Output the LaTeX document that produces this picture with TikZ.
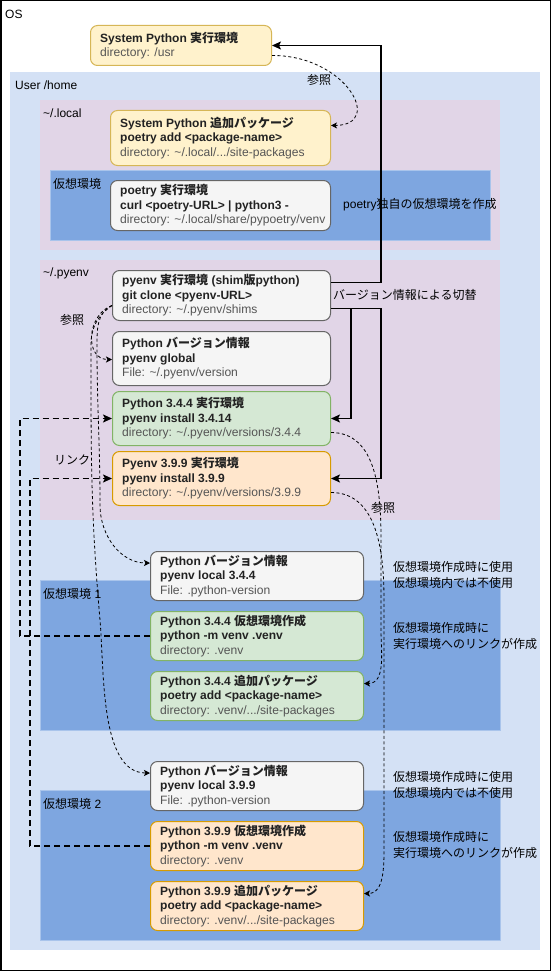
\documentclass[tikz,border=0pt]{standalone}
\usepackage{fontspec}
\setmainfont{Liberation Sans}
\newfontfamily\jp{Noto Sans CJK JP}
\usetikzlibrary{arrows.meta}
\newcommand\J[1]{{\jp #1}}
\newcommand\boxbold[1]{\textbf{#1}}
\newcommand\boxdir[1]{{\fontsize{12.1}{14.5}\selectfont\textcolor{dirgray}{#1}}}
\definecolor{homeblue}{HTML}{D4E1F5}
\definecolor{purp}{HTML}{E1D5E7}
\definecolor{venvblue}{HTML}{7EA6E0}
\definecolor{venvedge}{HTML}{A9C4EB}
\definecolor{yfill}{HTML}{FFF2CC}\definecolor{ystroke}{HTML}{D6B656}
\definecolor{gfill}{HTML}{F5F5F5}\definecolor{gstroke}{HTML}{666666}
\definecolor{grfill}{HTML}{D5E8D4}\definecolor{grstroke}{HTML}{82B366}
\definecolor{ofill}{HTML}{FFE6CC}\definecolor{ostroke}{HTML}{D79B00}
\definecolor{dirgray}{HTML}{555555}
\definecolor{boxink}{HTML}{222222}
\newcommand\mkbox[7]{%
  \node[#6, minimum width=#4pt, minimum height=#5pt, anchor=north west] (#1) at (#2,#3) {};
  \node[boxtext, anchor=west] (#1-t) at ([xshift=10pt]#1.west) {#7};}
\begin{document}
\begin{tikzpicture}[x=1pt,y=-1pt,
  every node/.style={font=\fontsize{12}{14.5}\selectfont},
  lbl/.style={anchor=west, inner sep=0pt},
  jlbl/.style={anchor=west, inner sep=0pt, font=\jp\fontsize{12}{16}\selectfont, align=left},
  boxtext/.style={align=left, inner sep=0pt, text=boxink, font=\fontsize{12}{14.5}\selectfont},
  ybox/.style={draw=ystroke, fill=yfill, rounded corners=7pt, line width=1pt, inner sep=0pt},
  gbox/.style={draw=gstroke, fill=gfill, rounded corners=7pt, line width=1pt, inner sep=0pt},
  grbox/.style={draw=grstroke, fill=grfill, rounded corners=7pt, line width=1pt, inner sep=0pt},
  obox/.style={draw=ostroke, fill=ofill, rounded corners=7pt, line width=1pt, inner sep=0pt},
  switcharrow/.style={line width=1.8pt, -{Stealth[length=9pt,width=8pt,inset=2pt]}},
  linkarrow/.style={line width=1.8pt, dash pattern=on 6pt off 4pt, -{Stealth[length=9pt,width=8pt,inset=2pt]}},
  refarrow/.style={line width=0.8pt, dash pattern=on 3pt off 2.5pt, -{Stealth[length=6pt,width=6pt,inset=1.5pt]}}
]
\useasboundingbox (0,0) rectangle (551,971);
% frames
\draw[line width=1.5pt, fill=white] (0.75,0.75) rectangle (550.25,970.25);
\fill[homeblue] (10,72) rectangle (540,950);
\fill[purp] (40,100) rectangle (500,250);
\filldraw[fill=venvblue, draw=venvedge, line width=0.8pt] (50,170) rectangle (490,240);
\fill[purp] (40,260) rectangle (500,520);
\filldraw[fill=venvblue, draw=venvedge, line width=0.8pt] (40,580) rectangle (500,730);
\filldraw[fill=venvblue, draw=venvedge, line width=0.8pt] (40,790) rectangle (500,940);
% frame labels
\node[lbl] (osl) at (5,14) {OS};
\node[lbl] (homel) at (15,85) {User /home};
\node[lbl] (locall) at (43,113) {\textasciitilde/.local};
\node[lbl] (venvl) at (53,184) {\J{仮想環境}};
\node[lbl] (pyenvl) at (43,273) {\textasciitilde/.pyenv};
\node[lbl] (venv1l) at (43,594) {\J{仮想環境} 1};
\node[lbl] (venv2l) at (43,804) {\J{仮想環境} 2};
% boxes
\mkbox{sysexec}{90}{25}{181}{40}{ybox}{\boxbold{System Python \J{実行環境}}\\\boxdir{directory: /usr}}
\mkbox{sysadd}{110}{110}{220}{55}{ybox}{\boxbold{System Python \J{追加パッケージ}}\\\boxbold{poetry add <package-name>}\\\boxdir{directory: \textasciitilde/.local/.../site-packages}}
\mkbox{poetry}{110}{180}{220}{50}{gbox}{\boxbold{poetry \J{実行環境}}\\\boxbold{curl <poetry-URL> | python3 -}\\\boxdir{directory: \textasciitilde/.local/share/pypoetry/venv}}
\mkbox{pyenv}{112}{270}{218}{50}{gbox}{\boxbold{pyenv \J{実行環境} (shim\J{版}python)}\\\boxbold{git clone <pyenv-URL>}\\\boxdir{directory: \textasciitilde/.pyenv/shims}}
\mkbox{global}{112}{331}{218}{54}{gbox}{\boxbold{Python \J{バージョン情報}}\\\boxbold{pyenv global}\\\boxdir{File: \textasciitilde/.pyenv/version}}
\mkbox{e344}{112}{391}{218}{54}{grbox}{\boxbold{Python 3.4.4 \J{実行環境}}\\\boxbold{pyenv install 3.4.14}\\\boxdir{directory: \textasciitilde/.pyenv/versions/3.4.4}}
\mkbox{e399}{112}{451}{218}{54}{obox}{\boxbold{Pyenv 3.9.9 \J{実行環境}}\\\boxbold{pyenv install 3.9.9}\\\boxdir{directory: \textasciitilde/.pyenv/versions/3.9.9}}
\mkbox{l344}{150}{551}{213}{49}{gbox}{\boxbold{Python \J{バージョン情報}}\\\boxbold{pyenv local 3.4.4}\\\boxdir{File: .python-version}}
\mkbox{v344}{150}{611}{213}{49}{grbox}{\boxbold{Python 3.4.4 \J{仮想環境作成}}\\\boxbold{python -m venv .venv}\\\boxdir{directory: .venv}}
\mkbox{a344}{150}{671}{213}{49}{grbox}{\boxbold{Python 3.4.4 \J{追加パッケージ}}\\\boxbold{poetry add <package-name>}\\\boxdir{directory: .venv/.../site-packages}}
\mkbox{l399}{150}{761}{213}{49}{gbox}{\boxbold{Python \J{バージョン情報}}\\\boxbold{pyenv local 3.9.9}\\\boxdir{File: .python-version}}
\mkbox{v399}{150}{821}{213}{49}{obox}{\boxbold{Python 3.9.9 \J{仮想環境作成}}\\\boxbold{python -m venv .venv}\\\boxdir{directory: .venv}}
\mkbox{a399}{150}{881}{213}{49}{obox}{\boxbold{Python 3.9.9 \J{追加パッケージ}}\\\boxbold{poetry add <package-name>}\\\boxdir{directory: .venv/.../site-packages}}
% side labels
\node[lbl] (poetrynote) at (343,205) {poetry\J{独自の仮想環境を作成}};
\node[jlbl] (switchl) at (333,295) {バージョン情報による切替};
\node[jlbl, anchor=center] (ref1) at (319,80) {参照};
\node[jlbl, anchor=center] (ref2) at (72,320) {参照};
\node[jlbl, anchor=center] (linkl) at (72,460) {リンク};
\node[jlbl, anchor=center] (ref3) at (383,508) {参照};
\node[jlbl] (note1a) at (393,575) {仮想環境作成時に使用\\仮想環境内では不使用};
\node[jlbl] (note1b) at (393,636) {仮想環境作成時に\\実行環境へのリンクが作成};
\node[jlbl] (note2a) at (393,785) {仮想環境作成時に使用\\仮想環境内では不使用};
\node[jlbl] (note2b) at (393,845) {仮想環境作成時に\\実行環境へのリンクが作成};
% switch arrows
\draw[switcharrow] ([yshift=13pt]pyenv.east) -| ([xshift=109pt]sysexec.east) -- (sysexec.east);
\draw[switcharrow] ([yshift=-13pt]pyenv.east) -| ([xshift=20pt]e344.east) -- (e344.east);
\draw[switcharrow] ([yshift=-13pt]pyenv.east) -| ([xshift=50pt]e399.east) -- (e399.east);
% link arrows
\draw[linkarrow] (v344.west) -| ([xshift=-92pt]e344.west) -- (e344.west);
\draw[linkarrow] (v399.west) -| ([xshift=-82pt]e399.west) -- (e399.west);
% reference curves
\draw[refarrow] ([yshift=-10pt]sysexec.east) .. controls (345,55) and (385,125) .. ([yshift=12.5pt]sysadd.east);
\draw[refarrow] ([yshift=-10pt]pyenv.west) to[out=200,in=180,looseness=1.3] ([yshift=-1pt]global.west);
\draw[refarrow] ([yshift=-10pt]pyenv.west) to[out=205,in=90] (97,345) to[out=270,in=90] (100,505) to[out=270,in=180] ([yshift=13pt]l344.west);
\draw[refarrow] ([yshift=-10pt]pyenv.west) to[out=215,in=90] (91,345) to[out=270,in=95] (100,620) to[out=275,in=180,looseness=0.8] ([yshift=13pt]l399.west);
\draw[refarrow] ([yshift=-14pt]e344.east) to[out=0,in=90] (381,540) -- (381,630) to[out=270,in=0] ([yshift=12.5pt]a344.east);
\draw[refarrow] ([yshift=-14pt]e399.east) to[out=0,in=90] (384,600) -- (384,845) to[out=270,in=0] ([yshift=12.5pt]a399.east);
\end{tikzpicture}
\end{document}
